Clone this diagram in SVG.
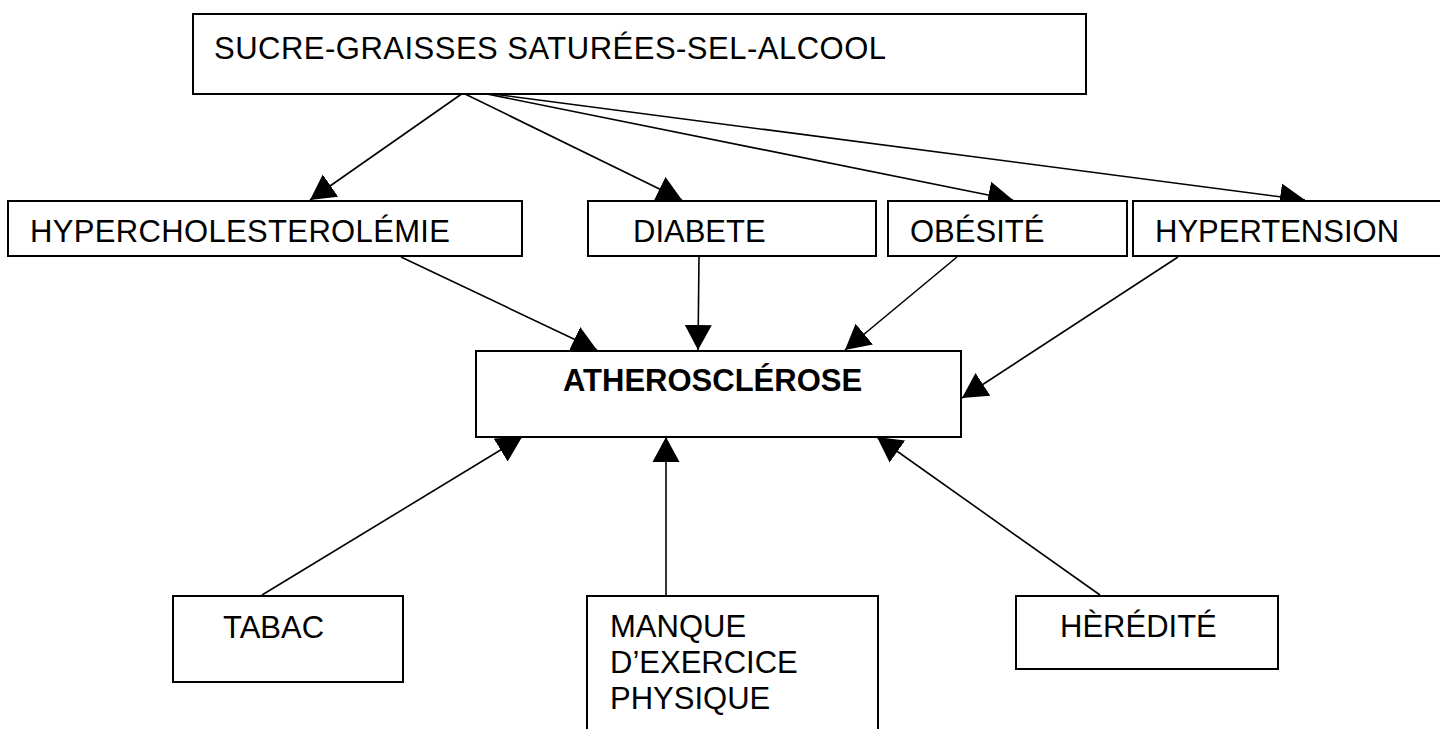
<svg xmlns="http://www.w3.org/2000/svg" width="1440" height="729" viewBox="0 0 1440 729">
<defs>
<style>
.box{fill:#fff;stroke:#000;stroke-width:2}
.t{font-family:"Liberation Sans",Arial,sans-serif;font-size:31px;fill:#000}
.b{font-weight:bold}
.c{stroke:#000;stroke-width:1.6;fill:none;marker-end:url(#ah)}
.cn{stroke:#000;stroke-width:1.6;fill:none}
</style>
<marker id="ah" markerUnits="userSpaceOnUse" markerWidth="26" markerHeight="28" refX="25" refY="13.5" orient="auto" viewBox="0 0 26 27">
<path d="M0,0 L25,13.5 L0,27 z" fill="#000"/>
</marker>
</defs>
<rect width="1440" height="729" fill="#fff"/>
<g id="connectors">
<line class="cn" x1="463" y1="93" x2="477" y2="92"/>
<line class="c" x1="463" y1="93" x2="310" y2="200"/>
<line class="c" x1="463" y1="93" x2="682" y2="200"/>
<line class="c" x1="477" y1="92" x2="1013" y2="200"/>
<line class="c" x1="477" y1="92" x2="1305" y2="200"/>
<line class="c" x1="401" y1="257" x2="597" y2="350"/>
<line class="c" x1="699" y1="257" x2="698" y2="350"/>
<line class="c" x1="957" y1="257" x2="845" y2="350"/>
<line class="c" x1="1178" y1="257" x2="962" y2="398"/>
<line class="c" x1="262" y1="595" x2="522" y2="437"/>
<line class="c" x1="666" y1="595" x2="666" y2="437"/>
<line class="c" x1="1100" y1="595" x2="877" y2="437"/>
</g>
<g id="sucre">
<rect class="box" x="193" y="14" width="893" height="80"/>
<text class="t" x="214" y="59" textLength="672" lengthAdjust="spacing">SUCRE-GRAISSES SATURÉES-SEL-ALCOOL</text>
</g>
<g id="hypercholesterolemie">
<rect class="box" x="8" y="201" width="514" height="55"/>
<text class="t" x="30" y="242" textLength="420" lengthAdjust="spacing">HYPERCHOLESTEROLÉMIE</text>
</g>
<g id="diabete">
<rect class="box" x="588" y="201" width="288" height="55"/>
<text class="t" x="633" y="242">DIABETE</text>
</g>
<g id="obesite">
<rect class="box" x="888" y="201" width="239" height="55"/>
<text class="t" x="910" y="242">OBÉSITÉ</text>
</g>
<g id="hypertension">
<rect class="box" x="1133" y="201" width="312" height="55"/>
<text class="t" x="1155" y="242">HYPERTENSION</text>
</g>
<g id="atherosclerose">
<rect class="box" x="476" y="351" width="485" height="86"/>
<text class="t b" x="563" y="391">ATHEROSCLÉROSE</text>
</g>
<g id="tabac">
<rect class="box" x="173" y="596" width="230" height="86"/>
<text class="t" x="223" y="638">TABAC</text>
</g>
<g id="manque">
<rect class="box" x="587" y="596" width="291" height="140"/>
<text class="t" x="610" y="637">MANQUE</text>
<text class="t" x="610" y="673">D’EXERCICE</text>
<text class="t" x="610" y="709">PHYSIQUE</text>
</g>
<g id="heredite">
<rect class="box" x="1016" y="596" width="262" height="73"/>
<text class="t" x="1060" y="637">HÈRÉDITÉ</text>
</g>
</svg>
